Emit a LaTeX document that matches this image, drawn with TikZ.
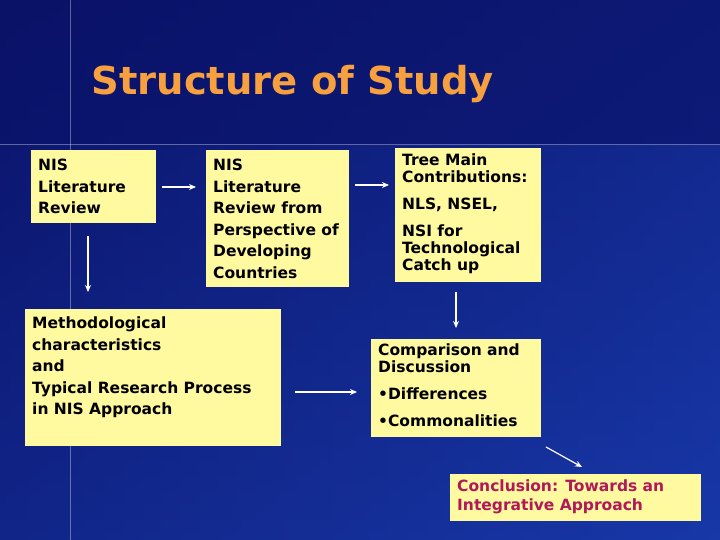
\documentclass[tikz,border=0pt]{standalone}
\usepackage{fontspec}
\setmainfont{DejaVu Sans}
\usetikzlibrary{arrows.meta}
\definecolor{bgA}{HTML}{0A1268}
\definecolor{bgB}{HTML}{1838A8}
\definecolor{boxc}{HTML}{FFF9A0}
\definecolor{titc}{HTML}{F7A040}
\definecolor{conc}{HTML}{B0185A}
\tikzset{
 bx/.style={fill=boxc, draw=none, anchor=north west, inner sep=0pt, font=\bfseries\fontsize{15.5}{21.5}\selectfont, align=left},
 ar/.style={draw=white, line width=1.2pt, -{Stealth[length=7pt,width=6pt]}}
}
\newcommand{\bxt}[4]{\parbox[t][#2][t]{#1}{\vspace{#3}\raggedright\leftskip=7pt #4}}
\begin{document}
\begin{tikzpicture}[x=1pt,y=-1pt]
\useasboundingbox (0,0) rectangle (720,540);
\shade[left color=bgA, right color=bgB] (0,0) rectangle (720,540);
\shade[top color=bgA, bottom color=bgB, opacity=0.5] (0,0) rectangle (720,540);
\fill[bgA, opacity=0.6] (0,0) rectangle (720,145);
\draw[white, opacity=0.35, line width=1pt] (70,0) -- (70,540);
\draw[white, opacity=0.35, line width=1pt] (0,145) -- (720,145);
\node[anchor=west, text=titc, font=\bfseries\fontsize{38.5}{44}\selectfont] (title) at (88,84) {Structure of Study};
\node[bx] (a) at (31,150) {\bxt{125pt}{73pt}{9pt}{NIS\\Literature\\Review}};
\node[bx] (b) at (206,150) {\bxt{143pt}{137pt}{9pt}{NIS\\Literature\\Review from\\Perspective of\\Developing\\Countries}};
\node[bx, font=\bfseries\fontsize{15.5}{17}\selectfont] (c) at (395,148) {\bxt{146pt}{134pt}{6pt}{Tree Main\\Contributions:\\[10pt]NLS, NSEL,\\[10pt]NSI for\\Technological\\Catch up}};
\node[bx] (d) at (25,309) {\bxt{256pt}{137pt}{8pt}{Methodological\\characteristics\\and\\Typical Research Process\\in NIS Approach}};
\node[bx, font=\bfseries\fontsize{15.5}{17}\selectfont] (e) at (371,339) {\bxt{170pt}{98pt}{5pt}{Comparison and\\Discussion\\[10pt]\textbullet Differences\\[10pt]\textbullet Commonalities}};
\node[bx, font=\bfseries\fontsize{15.5}{19}\selectfont, text=conc] (f) at (450,474) {\bxt{251pt}{47pt}{6pt}{Conclusion: Towards an\\Integrative Approach}};
\coordinate (a1) at (162,187); \coordinate (b1) at (196,187);
\coordinate (b2) at (355,185); \coordinate (c1) at (389,185);
\coordinate (a2) at (88,236); \coordinate (d1) at (88,292);
\coordinate (c2) at (456,292); \coordinate (e1) at (456,328);
\coordinate (d2) at (295,392); \coordinate (e2) at (357,392);
\coordinate (e3) at (546,447); \coordinate (f1) at (582,467);
\draw[ar] (a1) -- (b1);
\draw[ar] (b2) -- (c1);
\draw[ar] (a2) -- (d1);
\draw[ar] (c2) -- (e1);
\draw[ar] (d2) -- (e2);
\draw[ar] (e3) -- (f1);
\end{tikzpicture}
\end{document}
